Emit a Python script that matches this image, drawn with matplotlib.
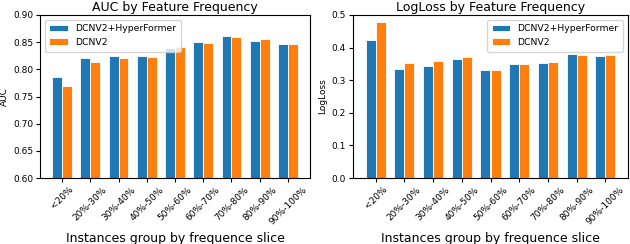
import matplotlib
matplotlib.use("Agg")
import matplotlib.pyplot as plt
import numpy as np

categories = ["<20%", "20%-30%", "30%-40%", "40%-50%", "50%-60%",
              "60%-70%", "70%-80%", "80%-90%", "90%-100%"]
auc_hyper = [0.785, 0.821, 0.825, 0.825, 0.839, 0.851, 0.861, 0.852, 0.847]
auc_dcn = [0.770, 0.813, 0.821, 0.823, 0.841, 0.848, 0.860, 0.855, 0.846]
ll_hyper = [0.424, 0.334, 0.343, 0.366, 0.332, 0.350, 0.354, 0.381, 0.375]
ll_dcn = [0.480, 0.354, 0.358, 0.371, 0.330, 0.350, 0.355, 0.377, 0.377]

fig = plt.figure(figsize=(6.3, 2.44), dpi=100)
ax1 = fig.add_axes([40/630, 1-178/244, 270/630, 163/244])
ax2 = fig.add_axes([353/630, 1-178/244, 275/630, 163/244])

x = np.arange(len(categories))
w = 0.35
blue = "#1f77b4"
orange = "#ff7f0e"

def draw(ax, a, b, title, ylabel, ylim, yticks, loc):
    ax.bar(x - w/2, a, w, color=blue, edgecolor="white", linewidth=0.6, label="DCNV2+HyperFormer")
    ax.bar(x + w/2, b, w, color=orange, edgecolor="white", linewidth=0.6, label="DCNV2")
    ax.set_ylim(*ylim)
    ax.set_yticks(yticks)
    ax.set_xticks(x)
    ax.set_xticklabels(categories, rotation=45, fontsize=6.5)
    ax.tick_params(axis="both", labelsize=6.5, length=3, pad=2)
    ax.set_title(title, fontsize=9, pad=3)
    ax.set_ylabel(ylabel, fontsize=6.5, labelpad=3)
    ax.set_xlabel("Instances group by frequence slice", fontsize=9, labelpad=4)
    ax.legend(loc=loc, fontsize=6.7, handlelength=2.0, borderpad=0.5)

draw(ax1, auc_hyper, auc_dcn, "AUC by Feature Frequency", "AUC", (0.6, 0.9),
     [0.60, 0.65, 0.70, 0.75, 0.80, 0.85, 0.90], "upper left")
draw(ax2, ll_hyper, ll_dcn, "LogLoss by Feature Frequency", "LogLoss", (0.0, 0.5),
     [0.0, 0.1, 0.2, 0.3, 0.4, 0.5], "upper right")

fig.savefig("out.png", dpi=100)
